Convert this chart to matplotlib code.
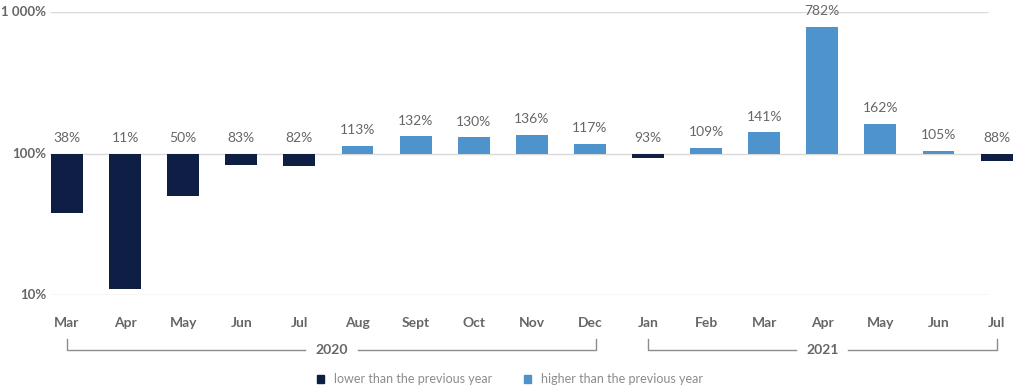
import matplotlib.pyplot as plt
from matplotlib.patches import Patch
import matplotlib.transforms as mtransforms

plt.rcParams['font.family'] = ['Lato', 'DejaVu Sans']

months = ['Mar', 'Apr', 'May', 'Jun', 'Jul', 'Aug', 'Sept', 'Oct', 'Nov', 'Dec',
          'Jan', 'Feb', 'Mar', 'Apr', 'May', 'Jun', 'Jul']
values = [38, 11, 50, 83, 82, 113, 132, 130, 136, 117,
          93, 109, 141, 782, 162, 105, 88]
years = [('2020', 0, 9.1), ('2021', 10, 16)]

dark = '#0f1e45'
blue = '#4f93cd'
grey = '#666666'

fig = plt.figure(figsize=(10.19, 3.89), dpi=100)
ax = fig.add_axes([0, 94 / 389, 1, 283 / 389])
# x range chosen so bars sit at the same pixels as the reference
ax.set_xlim(-67 / 58.1, (1019 - 67) / 58.1)
ax.set_yscale('log')
ax.set_ylim(10, 1000)

x = list(range(len(values)))
colors = [dark if v < 100 else blue for v in values]
heights = [v - 100 for v in values]
ax.bar(x, heights, bottom=100, width=0.55, color=colors, zorder=3)

# gridlines
ax.hlines([10, 100, 1000], -0.29, 15.85, color='#d9d9d9', lw=1, zorder=1)

# y tick labels
for val, lab in [(10, '10%'), (100, '100%'), (1000, '1 000%')]:
    ax.annotate(lab, (-0.29, val), xytext=(-3, 0), textcoords='offset points',
                ha='right', va='center', fontsize=9.5, color=grey, fontweight='bold')

# value labels
for xi, v in zip(x, values):
    top = max(v, 100)
    ax.annotate(f'{v}%', (xi, top), xytext=(0, 7), textcoords='offset points',
                ha='center', va='bottom', fontsize=10, color=grey)

ax.set_xticks([])
ax.set_yticks([])
ax.minorticks_off()
for s in ax.spines.values():
    s.set_visible(False)
ax.patch.set_alpha(0)

trans = mtransforms.blended_transform_factory(ax.transData, ax.transAxes)
for xi, m in zip(x, months):
    ax.text(xi, -0.1, m, transform=trans, ha='center', va='center',
            fontsize=10, color=grey, fontweight='bold')

# year brackets
for yr, a, b in years:
    mid = (a + b) / 2
    ax.plot([a, a, mid - 0.45], [-0.155, -0.195, -0.195], transform=trans,
            color='#8c8c8c', lw=1, clip_on=False)
    ax.plot([mid + 0.45, b, b], [-0.195, -0.195, -0.155], transform=trans,
            color='#8c8c8c', lw=1, clip_on=False)
    ax.text(mid, -0.195, yr, transform=trans, ha='center', va='center',
            fontsize=10, color=grey, fontweight='bold')

handles = [Patch(color=dark, label='lower than the previous year'),
           Patch(color=blue, label='higher than the previous year')]
leg = fig.legend(handles=handles, loc='center', bbox_to_anchor=(510 / 1019, 10 / 389),
                 ncol=2, frameon=False, fontsize=9, handlelength=0.6, handleheight=0.6,
                 handletextpad=0.8, columnspacing=2.5)
for t in leg.get_texts():
    t.set_color('#8c8c8c')

fig.savefig('out.png', dpi=100)
